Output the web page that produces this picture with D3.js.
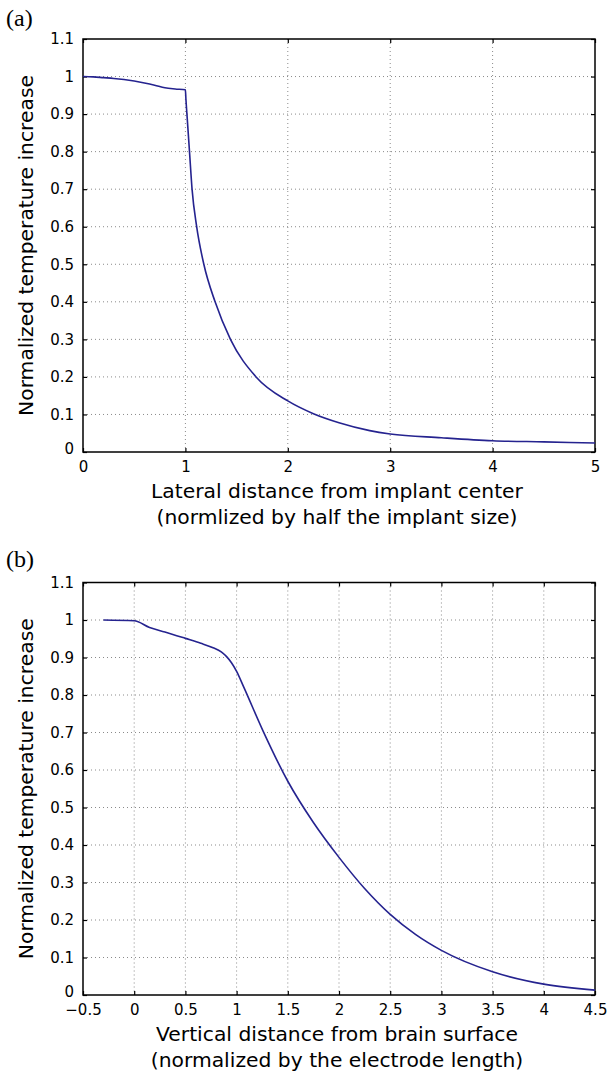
<!DOCTYPE html>
<html>
<head>
<meta charset="utf-8">
<script src="https://cdn.jsdelivr.net/npm/d3@7"></script>
<style>
  html, body { margin: 0; padding: 0; background: #fff; }
  svg { display: block; }
</style>
</head>
<body>
<script>
// ---------- data ----------
const panelALabel = "(a)";
const panelAX = [0, 0.1, 0.2, 0.3, 0.4, 0.5, 0.6, 0.7, 0.8, 0.9, 1.0, 1.005, 1.015, 1.04, 1.065, 1.11, 1.18, 1.29, 1.44, 1.69, 2.0, 2.25, 2.5, 2.8, 3.0, 3.5, 4.0, 4.5, 5.0];
const panelAY = [1.0, 0.999, 0.997, 0.995, 0.992, 0.988, 0.983, 0.977, 0.970, 0.967, 0.965, 0.94, 0.9, 0.8, 0.7, 0.6, 0.5, 0.4, 0.3, 0.2, 0.136, 0.102, 0.078, 0.057, 0.048, 0.038, 0.030, 0.027, 0.024];
const panelAXTicks = [0, 1, 2, 3, 4, 5];
const panelAXTickLabels = ["0", "1", "2", "3", "4", "5"];
const panelAXTitle = ["Lateral distance from implant center", "(normlized by half the implant size)"];

const panelBLabel = "(b)";
const panelBX = [-0.3, 0, 0.15, 0.3, 0.5, 0.65, 0.77, 0.85, 0.9, 0.95, 1.0, 1.07, 1.26, 1.5, 1.75, 2.0, 2.25, 2.5, 2.75, 3.0, 3.5, 4.0, 4.5];
const panelBY = [1.0, 0.998, 0.980, 0.968, 0.951, 0.938, 0.926, 0.915, 0.903, 0.886, 0.863, 0.821, 0.703, 0.570, 0.460, 0.367, 0.284, 0.215, 0.161, 0.119, 0.062, 0.029, 0.013];
const panelBXTicks = [-0.5, 0, 0.5, 1, 1.5, 2, 2.5, 3, 3.5, 4, 4.5];
const panelBXTickLabels = ["\u22120.5", "0", "0.5", "1", "1.5", "2", "2.5", "3", "3.5", "4", "4.5"];
const panelBXTitle = ["Vertical distance from brain surface", "(normalized by the electrode length)"];

const yTicks = [0, 0.1, 0.2, 0.3, 0.4, 0.5, 0.6, 0.7, 0.8, 0.9, 1, 1.1];
const yTickLabels = ["0", "0.1", "0.2", "0.3", "0.4", "0.5", "0.6", "0.7", "0.8", "0.9", "1", "1.1"];
const yTitle = "Normalized temperature increase";

// ---------- drawing ----------
const W = 608, H = 1079;
const svg = d3.select("body").append("svg").attr("width", W).attr("height", H);

const sansFont = '"DejaVu Sans", Verdana, sans-serif';
const serifFont = '"Liberation Serif", "Times New Roman", serif';
const lineColor = "#25238f";

function drawPanel(cfg) {
  const { left, right, top, bottom, xDomain, xs, ys, xTicks, xTickLabels, xTitle, label, labelY } = cfg;
  const x = d3.scaleLinear().domain(xDomain).range([left, right]);
  const y = d3.scaleLinear().domain([0, 1.1]).range([bottom, top]);
  const g = svg.append("g");

  // panel label
  g.append("text").attr("x", 6).attr("y", labelY)
    .attr("font-family", serifFont).attr("font-size", 24).attr("fill", "#000").text(label);

  // grid
  const grid = g.append("g").attr("stroke", "#8a8a8a").attr("stroke-width", 1)
    .attr("stroke-dasharray", "1,3");
  grid.selectAll("line.v").data(xTicks.slice(1, -1)).join("line")
    .attr("x1", d => x(d)).attr("x2", d => x(d)).attr("y1", top).attr("y2", bottom);
  grid.selectAll("line.h").data(yTicks.slice(1, -1)).join("line")
    .attr("x1", left).attr("x2", right).attr("y1", d => y(d)).attr("y2", d => y(d));

  // axes (ticks inward)
  const xMap = new Map(xTicks.map((t, i) => [t, xTickLabels[i]]));
  const yMap = new Map(yTicks.map((t, i) => [t, yTickLabels[i]]));
  const ax = g.append("g").attr("transform", `translate(0,${bottom})`)
    .call(d3.axisBottom(x).tickValues(xTicks).tickSize(-4).tickPadding(9).tickFormat(d => xMap.get(d)));
  const ay = g.append("g").attr("transform", `translate(${left},0)`)
    .call(d3.axisLeft(y).tickValues(yTicks).tickSize(-4).tickPadding(9).tickFormat(d => yMap.get(d)));
  const at = g.append("g").attr("transform", `translate(0,${top})`)
    .call(d3.axisTop(x).tickValues(xTicks).tickSize(-4).tickFormat(""));
  const ar = g.append("g").attr("transform", `translate(${right},0)`)
    .call(d3.axisRight(y).tickValues(yTicks).tickSize(-4).tickFormat(""));
  [ax, ay, at, ar].forEach(a => {
    a.select(".domain").remove();
    a.selectAll(".tick line").attr("stroke", "#000").attr("stroke-width", 1.2);
    a.selectAll(".tick text").attr("font-size", 15).attr("fill", "#000").attr("font-family", sansFont);
  });
  // keep the y "0" label clear of the first x label
  ay.selectAll(".tick").filter(d => d === 0).select("text").attr("dy", "0.1em");

  // frame
  g.append("rect").attr("x", left).attr("y", top).attr("width", right - left).attr("height", bottom - top)
    .attr("fill", "none").attr("stroke", "#000").attr("stroke-width", 1.5);

  // curve
  const pts = xs.map((v, i) => [v, ys[i]]);
  g.append("path").datum(pts)
    .attr("fill", "none").attr("stroke", lineColor).attr("stroke-width", 1.6)
    .attr("d", d3.line().x(d => x(d[0])).y(d => y(d[1])).curve(d3.curveMonotoneX));

  // x title
  xTitle.forEach((t, i) => {
    g.append("text").attr("x", (left + right) / 2 - 2).attr("y", bottom + 46 + i * 26)
      .attr("text-anchor", "middle").attr("font-family", sansFont).attr("font-size", 20.3)
      .attr("fill", "#000").text(t);
  });
  // y title
  g.append("text")
    .attr("transform", `translate(${33},${(top + bottom) / 2}) rotate(-90)`)
    .attr("text-anchor", "middle").attr("font-family", sansFont).attr("font-size", 20.3)
    .attr("fill", "#000").text(yTitle);
}

drawPanel({
  left: 83, right: 595, top: 39, bottom: 452,
  xDomain: [0, 5], xs: panelAX, ys: panelAY,
  xTicks: panelAXTicks, xTickLabels: panelAXTickLabels, xTitle: panelAXTitle,
  label: panelALabel, labelY: 26
});
drawPanel({
  left: 83, right: 595, top: 582.5, bottom: 995,
  xDomain: [-0.5, 4.5], xs: panelBX, ys: panelBY,
  xTicks: panelBXTicks, xTickLabels: panelBXTickLabels, xTitle: panelBXTitle,
  label: panelBLabel, labelY: 567
});
</script>
</body>
</html>
